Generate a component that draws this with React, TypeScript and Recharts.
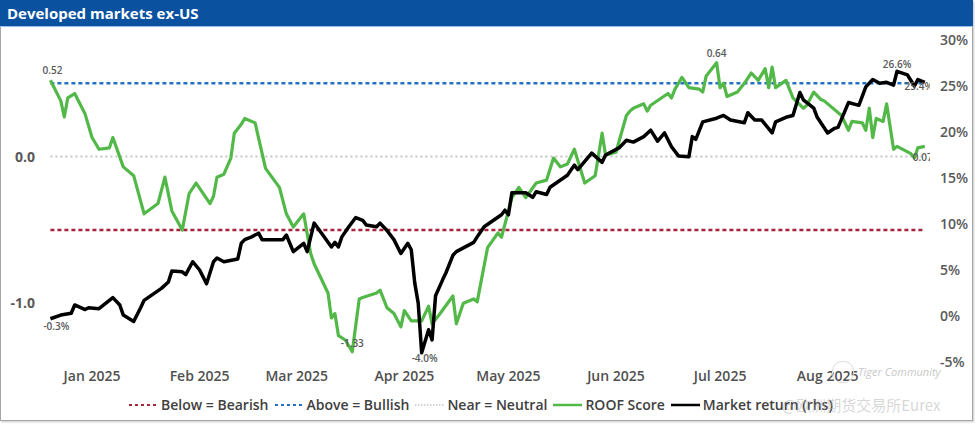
import React from "react";
import { LineChart, Line, XAxis, YAxis, ReferenceLine } from "recharts";

// x positions are days counted from 1 Jan 2025
const roofDays = [
  -12, -9, -8, -7, -5, -2, 0, 2, 5, 6,
  9, 12, 15, 19, 21, 23, 26, 28, 30, 34,
  35, 36, 38, 40, 41, 43, 44, 47, 50, 54,
  56, 58, 61, 63, 64, 68, 69, 70, 71, 73,
  75, 77, 78, 82, 83, 85, 87, 89, 90, 92,
  95, 97, 98, 100, 104, 105, 107, 110, 111, 114,
  117, 118, 121, 123, 125, 128, 131, 133, 135, 137,
  139, 142, 145, 147, 148, 151, 154, 155, 156, 159,
  160, 161, 166, 167, 168, 169, 170, 172, 175, 176,
  177, 180, 181, 182, 183, 186, 188, 190, 192, 194,
  195, 196, 197, 200, 202, 205, 206, 208, 210, 211,
  216, 218, 219, 222, 223, 224, 225, 226, 228, 229,
  231, 232, 236, 237, 238, 240,
];
const roofScore = [
  0.52, 0.38, 0.27, 0.4, 0.43, 0.29, 0.13, 0.05, 0.06, 0.13,
  -0.07, -0.13, -0.39, -0.32, -0.14, -0.37, -0.5, -0.25, -0.18, -0.32,
  -0.27, -0.14, -0.12, -0.01, 0.16, 0.22, 0.26, 0.23, -0.08, -0.21,
  -0.39, -0.48, -0.39, -0.66, -0.73, -0.93, -1.1, -1.07, -1.22, -1.25,
  -1.33, -0.97, -0.96, -0.93, -0.91, -1.03, -1.07, -1.16, -1.05, -1.12,
  -1.12, -1.02, -1.14, -1.08, -0.95, -1.14, -1.0, -0.97, -0.99, -0.62,
  -0.52, -0.55, -0.28, -0.21, -0.28, -0.18, -0.16, -0.01, -0.07, -0.05,
  0.05, -0.18, -0.13, 0.16, 0.01, 0.03, 0.28, 0.31, 0.33, 0.36,
  0.31, 0.35, 0.43, 0.4, 0.46, 0.5, 0.54, 0.47, 0.46, 0.44,
  0.55, 0.64, 0.47, 0.5, 0.41, 0.44, 0.5, 0.57, 0.52, 0.6,
  0.47, 0.61, 0.47, 0.52, 0.4, 0.33, 0.35, 0.44, 0.39, 0.38,
  0.28, 0.18, 0.24, 0.23, 0.18, 0.33, 0.13, 0.26, 0.24, 0.36,
  0.05, 0.07, 0.02, -0.01, 0.06, 0.07,
];

const returnDays = [
  -12, -9, -6, -5, -2, -1, 2, 6, 8, 9,
  12, 14, 15, 20, 22, 23, 26, 27, 29, 31,
  33, 35, 36, 38, 42, 43, 44, 46, 48, 49,
  55, 56, 58, 61, 62, 64, 65, 69, 70, 71,
  72, 74, 76, 78, 79, 82, 83, 85, 87, 89,
  91, 92, 93, 94, 95, 97, 98, 99, 101, 102,
  104, 105, 110, 111, 113, 118, 119, 120, 121, 125,
  127, 128, 131, 132, 137, 139, 140, 144, 147, 148,
  152, 154, 156, 159, 161, 163, 165, 167, 169, 172,
  173, 174, 176, 180, 182, 184, 188, 189, 191, 193,
  196, 197, 200, 202, 204, 205, 208, 209, 212, 214,
  215, 218, 221, 223, 225, 227, 229, 231, 232, 235,
  237, 238, 240,
];
const marketReturn = [
  -0.3, 0.1, 0.3, 1.2, 0.7, 0.9, 0.8, 2.0, 1.2, 0.1,
  -0.6, 0.9, 1.7, 3.0, 3.7, 4.9, 4.8, 4.5, 5.9, 5.0,
  3.5, 5.9, 6.3, 5.9, 6.2, 7.9, 8.3, 8.6, 9.0, 8.3,
  8.3, 8.8, 7.0, 7.9, 7.0, 10.1, 9.6, 7.5, 8.0, 7.5,
  8.6, 9.7, 10.7, 10.4, 9.9, 9.7, 10.1, 9.3, 8.3, 6.8,
  7.9, 7.2, 3.6, 1.4, -4.0, -1.5, -2.6, 2.2, 3.9, 4.7,
  6.6, 7.0, 8.0, 8.6, 9.7, 11.0, 11.5, 11.0, 13.4, 13.4,
  12.9, 13.5, 13.2, 14.0, 15.3, 16.4, 15.9, 17.7, 16.7, 17.5,
  18.3, 19.1, 18.9, 19.5, 20.2, 19.0, 19.9, 18.4, 17.4, 17.3,
  19.5, 19.2, 21.1, 21.5, 21.8, 21.3, 21.0, 22.1, 21.3, 21.3,
  19.9, 21.1, 21.6, 21.8, 24.3, 23.5, 22.6, 21.6, 19.9, 20.4,
  20.5, 23.2, 22.9, 24.9, 25.7, 25.3, 25.4, 25.1, 26.6, 26.2,
  25.0, 25.7, 25.4,
];

const monthTicks = [0, 31, 59, 90, 120, 151, 181, 212];
const monthLabels = ["Jan 2025", "Feb 2025", "Mar 2025", "Apr 2025", "May 2025", "Jun 2025", "Jul 2025", "Aug 2025"];
const scoreTicks = [-1, 0];
const returnTicks = [-5, 0, 5, 10, 15, 20, 25, 30];

const bullishLevel = 0.5;
const neutralLevel = 0;
const bearishLevel = -0.5;

const GREEN = "#52b848";
const BLUE = "#2472c8";
const RED = "#a8233c";
const GREY = "#c4c4c4";
const FONT = "'Open Sans', 'Noto Sans', sans-serif";

const roofData = roofDays.map((day, i) => ({ day, score: roofScore[i] }));
const returnData = returnDays.map((day, i) => ({ day, ret: marketReturn[i] }));

// which points get a value label, and where the text sits relative to the point
const roofNotes = new Map<number, [number, number]>([
  [0, [2, -10]],
  [roofScore.indexOf(Math.min(...roofScore)), [0, -9]],
  [roofScore.indexOf(Math.max(...roofScore)), [0, -10]],
  [roofScore.length - 1, [-2, 11]],
]);
const returnNotes = new Map<number, [number, number]>([
  [0, [6, 7]],
  [marketReturn.indexOf(Math.min(...marketReturn)), [3, 5]],
  [marketReturn.indexOf(Math.max(...marketReturn)), [0, -7]],
  [marketReturn.length - 1, [-6, 4]],
]);

function makeNoteDot(notes: Map<number, [number, number]>, fmt: (v: number) => string) {
  return (props: any) => {
    const { cx, cy, index, payload } = props;
    const off = notes.get(index);
    if (!off || cx == null) return <g key={`n-${index}`} />;
    const v = payload.score ?? payload.ret;
    return (
      <text
        key={`n-${index}`}
        x={cx + off[0]}
        y={cy + off[1]}
        textAnchor="middle"
        dominantBaseline="central"
        fontSize={10}
        fontWeight={600}
        fill="#595959"
        fontFamily={FONT}
      >
        {fmt(v)}
      </text>
    );
  };
}

const legendItems = [
  { label: "Below = Bearish", color: RED, dash: "3 3", width: 2 },
  { label: "Above = Bullish", color: BLUE, dash: "3 3", width: 2 },
  { label: "Near = Neutral", color: GREY, dash: "1.5 1.5", width: 1.5 },
  { label: "ROOF Score", color: GREEN, dash: undefined, width: 2.5 },
  { label: "Market return (rhs)", color: "#000", dash: undefined, width: 2.5 },
];

export default function App() {
  const first = roofDays[0];
  const last = roofDays[roofDays.length - 1];
  return (
    <div style={{ position: "absolute", left: 0, top: 0, width: 975, height: 424, background: "#fff", fontFamily: FONT }}>
      <div
        style={{
          position: "absolute", left: 0, top: 0, width: 973, height: 421,
          border: "1px solid #a6a6a6", boxSizing: "border-box", boxShadow: "1px 1px 2px #c8c8c8",
        }}
      />
      <div
        style={{
          position: "absolute", left: 0, top: 0, width: 973, height: 27,
          background: "#0a519f", borderBottom: "1px solid #9cc0e8", color: "#fff",
          fontSize: 15, fontWeight: 700, lineHeight: "27px", paddingLeft: 7, boxSizing: "border-box",
        }}
      >
        Developed markets ex-US
      </div>

      <div style={{ position: "absolute", left: 0, top: 0 }}>
        <LineChart width={975} height={424} margin={{ top: 40, right: 0, bottom: 32, left: 0 }} style={{ fontFamily: FONT }}>
          <XAxis
            xAxisId="t"
            dataKey="day"
            type="number"
            domain={[-15, 241.5]}
            ticks={monthTicks}
            interval={0}
            allowDataOverflow
            tickFormatter={(v: number) => monthLabels[monthTicks.indexOf(v)]}
            axisLine={false}
            tickLine={false}
            tickSize={0}
            tickMargin={9}
            height={30}
            tick={{ fill: "#505050", fontSize: 14, fontWeight: 600 }}
          />
          <YAxis
            yAxisId="score"
            orientation="left"
            width={40}
            domain={[-1.4, 0.795]}
            ticks={scoreTicks}
            allowDataOverflow
            tickFormatter={(v: number) => v.toFixed(1)}
            axisLine={false}
            tickLine={false}
            tickSize={0}
            tickMargin={5}
            tick={{ fill: "#595959", fontSize: 14, fontWeight: 700 }}
          />
          <YAxis
            yAxisId="ret"
            orientation="right"
            width={45}
            domain={[-5, 30]}
            ticks={returnTicks}
            allowDataOverflow
            tickFormatter={(v: number) => `${v}%`}
            axisLine={false}
            tickLine={false}
            tickSize={0}
            tickMargin={10}
            tick={{ fill: "#595959", fontSize: 14, fontWeight: 600 }}
          />
          <ReferenceLine
            xAxisId="t"
            yAxisId="score"
            segment={[{ x: first, y: neutralLevel }, { x: last, y: neutralLevel }]}
            stroke={GREY}
            strokeWidth={2}
            strokeDasharray="2 3"
          />
          <ReferenceLine
            xAxisId="t"
            yAxisId="score"
            segment={[{ x: first, y: bullishLevel }, { x: last, y: bullishLevel }]}
            stroke={BLUE}
            strokeWidth={2.5}
            strokeDasharray="4 3"
          />
          <ReferenceLine
            xAxisId="t"
            yAxisId="score"
            segment={[{ x: first, y: bearishLevel }, { x: last, y: bearishLevel }]}
            stroke={RED}
            strokeWidth={2.5}
            strokeDasharray="4 3"
          />
          <Line
            xAxisId="t"
            yAxisId="score"
            data={roofData}
            dataKey="score"
            type="linear"
            stroke={GREEN}
            strokeWidth={3.2}
            strokeLinejoin="round"
            dot={makeNoteDot(roofNotes, (v) => v.toFixed(2))}
            activeDot={false}
            isAnimationActive={false}
          />
          <Line
            xAxisId="t"
            yAxisId="ret"
            data={returnData}
            dataKey="ret"
            type="linear"
            stroke="#000"
            strokeWidth={3.5}
            strokeLinejoin="round"
            dot={makeNoteDot(returnNotes, (v) => `${v.toFixed(1)}%`)}
            activeDot={false}
            isAnimationActive={false}
          />
        </LineChart>
      </div>

      {/* legend */}
      <div
        style={{
          position: "absolute", left: 129, top: 395, display: "flex", alignItems: "center",
          fontSize: 14, fontWeight: 600, color: "#404040", whiteSpace: "nowrap",
        }}
      >
        {legendItems.map((it) => (
          <div key={it.label} style={{ display: "flex", alignItems: "center", marginRight: 6 }}>
            <svg width={29} height={10} style={{ marginRight: 3 }}>
              <line x1={0} y1={5} x2={29} y2={5} stroke={it.color} strokeWidth={it.width} strokeDasharray={it.dash} />
            </svg>
            <span>{it.label}</span>
          </div>
        ))}
      </div>

      {/* watermark */}
      <div style={{ position: "absolute", left: 832, top: 361, width: 20, height: 20, borderRadius: 10, border: "1px solid #dcdcdc" }} />
      <div style={{ position: "absolute", left: 858, top: 364, fontSize: 11, color: "#c8c8c8", fontStyle: "italic" }}>Tiger Community</div>
      <div
        style={{
          position: "absolute", left: 782, top: 394, fontSize: 15, color: "rgba(175,175,175,0.5)",
          fontFamily: "'Noto Sans CJK SC', 'Noto Sans', sans-serif",
        }}
      >
        @欧洲期货交易所Eurex
      </div>
    </div>
  );
}
